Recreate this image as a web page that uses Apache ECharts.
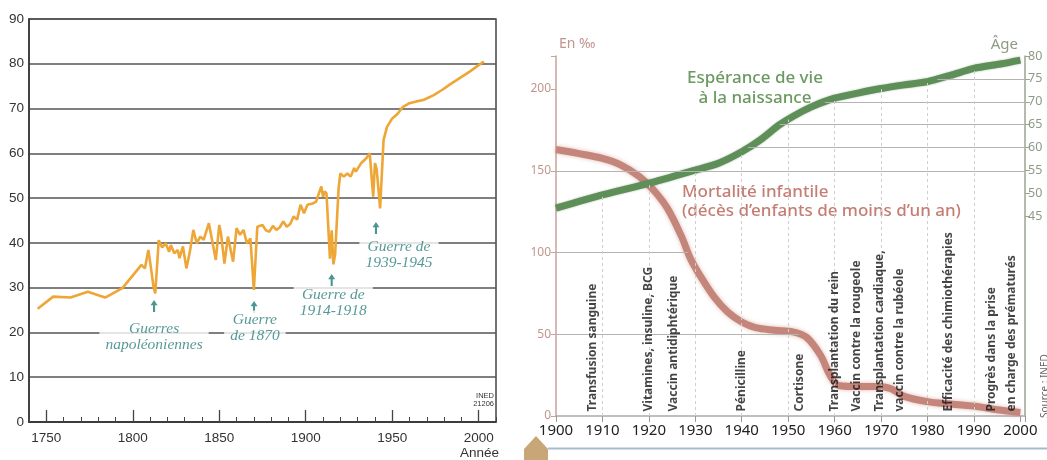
<!DOCTYPE html>
<html><head><meta charset="utf-8">
<script src="https://cdn.jsdelivr.net/npm/echarts@6/dist/echarts.min.js"></script>
<style>html,body{margin:0;padding:0;background:#fff}#c{width:1047px;height:460px}</style>
</head><body><div id="c"></div>
<script>
// ---------- Left chart : espérance de vie en France ----------
const lifeYears = [1745,1754,1764,1774,1784,1794,1805,1807,1809,1810,1812,1813,1815,1817,1819,1821,1822,1824,1826,1827,1829,1831,1833,1835,1837,1839,1841,1844,1846,1848,1850,1851,1853,1855,1858,1860,1862,1864,1866,1868,1870,1872,1875,1877,1879,1881,1883,1885,1887,1889,1891,1893,1895,1897,1899,1901,1904,1906,1908,1909,1910,1911,1912,1914,1915,1916,1917,1919,1920,1922,1924,1926,1928,1929,1932,1935,1937,1939,1940,1941,1943,1945,1947,1950,1953,1956,1960,1964,1968,1974,1979,1983,1989,1995,2000,2003];
const lifeValues = [25.3,28.0,27.8,29.1,27.8,29.9,35.1,34.3,38.4,35.8,30.2,28.7,40.6,39.0,39.9,38.0,39.5,37.7,38.4,36.6,39.2,34.3,38.0,42.9,39.9,41.4,40.7,44.4,40.3,36.2,44.0,42.1,35.4,41.4,35.8,43.3,41.8,42.9,39.9,41.0,29.5,43.6,44.0,42.8,42.5,43.8,42.9,43.5,44.8,43.6,44.2,45.9,45.2,48.5,46.6,48.5,48.8,49.2,51.5,52.6,50.3,51.5,51.0,36.5,42.8,35.2,37.5,52.2,55.5,54.8,55.5,54.8,56.7,55.9,57.8,58.9,60.0,50.3,57.8,56.5,47.7,63.0,65.9,67.8,68.8,70.3,71.2,71.6,71.9,73.0,74.2,75.3,76.8,78.3,79.7,80.5];
const leftXLabels = [1750,1800,1850,1900,1950,2000];
const warTexts = ['Guerres\nnapoléoniennes','Guerre\nde 1870','Guerre de\n1914-1918','Guerre de\n1939-1945'];
const warArrowYears = [1812.3,1870.1,1915.0,1940.6];
const warArrowLevels = [25.9,25.7,31.7,43.3];
const warTextYears = [1812.3,1870.6,1915.9,1953.9];
const warTextLevels = [19.1,21.1,26.5,37.4];

// ---------- Right chart : mortalité infantile et espérance de vie ----------
const mortYears = [1900,1905,1910,1914,1918,1921,1924,1927,1929,1931,1934,1937,1940,1943,1947,1951,1954,1957,1959,1961,1965,1969,1972,1975,1980,1985,1991,1995,2000];
const mortValues = [163,160.5,157.6,153.5,146.4,138.2,127,110,96,86,73,63.5,57.5,54,52.5,51.5,48,37,25,18.5,18,18,16.8,12,8.8,7.3,5.7,3.8,2.2];
const ageYears = [1900,1910,1920,1930,1935,1940,1944,1948,1951,1955,1960,1965,1970,1975,1980,1985,1990,1996,2000];
const ageValues = [46.8,49.7,52.2,55.1,56.6,59.1,61.7,64.9,66.8,68.9,70.8,71.9,72.9,73.7,74.4,75.8,77.3,78.3,79.1];
const decadeLines = [1910,1920,1930,1940,1950,1960,1970,1980,1990];
const mortRefLevels = [50,100];
const ageRefLevels = [60,65,70,75];
const fullRefLevel = 150;
const milestoneYears = [1907.97,1919.87,1925.26,1939.99,1952.54,1960.08,1964.75,1969.77,1974.07,1984.47,1993.82,1998.13];
const milestoneTexts = ['Transfusion sanguine','Vitamines, insuline, BCG','Vaccin antidiphtérique','Pénicilline','Cortisone','Transplantation du rein','Vaccin contre la rougeole','Transplantation cardiaque,','vaccin contre la rubéole','Efficacité des chimiothérapies','Progrès dans la prise','en charge des prématurés'];

const zip = (a,b) => a.map((v,i)=>[v,b[i]]);
function crossAt(xs, ys, level){
  for (let i=0;i<xs.length-1;i++){
    if ((ys[i]-level)*(ys[i+1]-level) <= 0 && ys[i]!==ys[i+1])
      return xs[i] + (level-ys[i])*(xs[i+1]-xs[i])/(ys[i+1]-ys[i]);
  }
  return xs[0];
}
function valueAt(xs, ys, x){
  for (let i=0;i<xs.length-1;i++){
    if (x>=xs[i] && x<=xs[i+1]) return ys[i] + (x-xs[i])*(ys[i+1]-ys[i])/(xs[i+1]-xs[i]);
  }
  return ys[ys.length-1];
}

const TEAL = '#2A7E7D';
const R_LEFT=556, R_TOP=56, R_W=469, R_H=360, AGE_H=366.6;
const ageAtAxis = 80*(AGE_H-R_H)/AGE_H;
const catYears = []; for (let y=1740;y<=2010;y++) catYears.push(String(y));
const refStyle = {color:'#b4b4b4', width:1, type:'solid'};

const chart = echarts.init(document.getElementById('c'), null, {renderer:'canvas'});
chart.setOption({
  animation:false,
  backgroundColor:'#fff',
  grid:[
    {left:29, top:19, width:467, height:403, show:true, borderColor:'#444', borderWidth:1.5, backgroundColor:'rgba(0,0,0,0)'},
    {left:R_LEFT, top:R_TOP, width:R_W, height:R_H},
    {left:R_LEFT, top:R_TOP, width:R_W, height:AGE_H},
    {left:R_LEFT, top:R_TOP, width:R_W, height:160.4}
  ],
  xAxis:[
    {gridIndex:0, type:'value', min:1740, max:2010, interval:10,
     axisLine:{lineStyle:{color:'#333', width:1.5}},
     axisTick:{inside:true, length:5, lineStyle:{color:'#444'}},
     axisLabel:{formatter:v=>leftXLabels.includes(v)?String(v):'', color:'#333', fontSize:13.5, fontFamily:'Liberation Sans', margin:9},
     splitLine:{show:false}},
    {gridIndex:0, type:'category', data:catYears, boundaryGap:false, position:'bottom',
     axisLine:{show:false}, axisLabel:{show:false},
     axisTick:{show:true, inside:true, length:12, interval:(i,v)=>(+v)%50===0, lineStyle:{color:'#444', width:1.3}}},
    {gridIndex:1, type:'value', min:1900, max:2001, interval:10,
     axisLine:{lineStyle:{color:'#aaa', width:1.5}},
     axisTick:{length:6, lineStyle:{color:'#999'}},
     axisLabel:{formatter:v=>(v%10===0)?String(v):'', color:'#222', fontSize:15, fontFamily:'Noto Sans', margin:7},
     splitLine:{show:false}},
    {gridIndex:2, type:'value', min:1900, max:2001, show:false},
    {gridIndex:3, type:'value', min:1900, max:2001, show:false}
  ],
  yAxis:[
    {gridIndex:0, type:'value', min:0, max:90, interval:10,
     axisLine:{show:true, lineStyle:{color:'#333', width:1.5}}, axisTick:{show:false},
     axisLabel:{color:'#333', fontSize:13.5, fontFamily:'Liberation Sans', margin:5},
     splitLine:{lineStyle:{color:'#555', width:1.5}}},
    {gridIndex:1, type:'value', min:0, max:220.2, interval:50,
     axisLine:{show:true, lineStyle:{color:'#C9A09B', width:1.5}},
     axisTick:{show:true, length:5, lineStyle:{color:'#C9A09B'}},
     axisLabel:{formatter:v=>(v%50===0)?String(v):'', color:'#C0958F', fontSize:12, fontFamily:'Noto Sans', margin:5},
     splitLine:{show:false}},
    {gridIndex:1, type:'value', position:'right', min:0, max:1,
     axisLine:{show:true, lineStyle:{color:'#9AA590', width:1.5}}, axisTick:{show:false}, axisLabel:{show:false}, splitLine:{show:false}},
    {gridIndex:2, type:'value', min:0, max:80, show:false},
    {gridIndex:3, type:'value', position:'right', min:45, max:80, interval:5,
     axisLine:{show:false}, axisTick:{show:true, length:5, lineStyle:{color:'#9AA590'}},
     axisLabel:{color:'#8E9A85', fontSize:12.5, fontFamily:'Noto Sans', margin:3},
     splitLine:{show:false}}
  ],
  series:[
    {type:'line', name:'Espérance de vie (France)', xAxisIndex:0, yAxisIndex:0, data:zip(lifeYears,lifeValues),
     showSymbol:false, lineStyle:{color:'#EEA636', width:2.6}, z:3},
    {type:'scatter', xAxisIndex:0, yAxisIndex:0, data:zip(warArrowYears,warArrowLevels),
     symbol:'path://M5,0 L10,7 L6.5,7 L6.5,16 L3.5,16 L3.5,7 L0,7 Z', symbolSize:[7,12],
     itemStyle:{color:'#1F7B74'}, z:4},
    {type:'scatter', xAxisIndex:0, yAxisIndex:0,
     data:warTexts.map((t,i)=>({value:[warTextYears[i],warTextLevels[i]], label:{formatter:t}})),
     symbolSize:1, itemStyle:{color:'rgba(0,0,0,0)'},
     label:{show:true, position:'inside', fontFamily:'Liberation Serif', fontStyle:'italic', fontSize:15.5, lineHeight:16,
            color:TEAL, backgroundColor:'#fff', padding:[1,6], align:'center', verticalAlign:'middle'}, z:5},
    {type:'line', xAxisIndex:2, yAxisIndex:1, data:zip(mortYears,mortValues), showSymbol:false,
     lineStyle:{opacity:0, width:0}, silent:true, z:1,
     markLine:{silent:true, symbol:['none','none'], label:{show:false}, lineStyle:refStyle,
       data: mortRefLevels.map(l=>[{coord:[1900,l]},{coord:[crossAt(mortYears,mortValues,l),l]}])
             .concat([[{coord:[1900,fullRefLevel]},{coord:[2001,fullRefLevel]}]])}},
    {type:'line', xAxisIndex:3, yAxisIndex:3, data:zip(ageYears,ageValues), showSymbol:false,
     lineStyle:{opacity:0, width:0}, silent:true, z:1,
     markLine:{silent:true, symbol:['none','none'], label:{show:false}, lineStyle:refStyle,
       data: ageRefLevels.map(l=>[{coord:[crossAt(ageYears,ageValues,l),l]},{coord:[2001,l]}])
         .concat(decadeLines.map(d=>[{coord:[d,ageAtAxis]},{coord:[d,valueAt(ageYears,ageValues,d)], lineStyle:{color:'#cfcfcf', type:[3,3], width:1}}]))}},
    {type:'line', name:'Mortalité infantile', xAxisIndex:2, yAxisIndex:1, data:zip(mortYears,mortValues),
     showSymbol:false, smooth:0.35,
     lineStyle:{color:'#C4857B', width:7, shadowBlur:4, shadowColor:'rgba(200,140,130,0.6)'}, z:3},
    {type:'line', name:'Espérance de vie à la naissance', xAxisIndex:3, yAxisIndex:3, data:zip(ageYears,ageValues),
     showSymbol:false, smooth:0.2,
     lineStyle:{color:'#5F8F58', width:7, shadowBlur:2, shadowColor:'rgba(70,110,65,0.5)'}, z:3},
    {type:'scatter', xAxisIndex:2, yAxisIndex:1,
     data:milestoneTexts.map((t,i)=>({value:[milestoneYears[i],0], label:{formatter:t}})),
     symbolSize:1, itemStyle:{color:'rgba(0,0,0,0)'},
     label:{show:true, position:'top', distance:4, rotate:90, align:'left', verticalAlign:'middle',
            fontSize:12, fontWeight:'bold', fontFamily:'Noto Sans', color:'#151515'}, z:6}
  ],
  graphic:[
    {type:'text', left:460, top:446, style:{text:'Année', fill:'#333', font:'13.5px "Liberation Sans"'}},
    {type:'text', x:494, y:392, style:{text:'INED\n21206', fill:'#333', font:'7.5px "Liberation Sans"', textAlign:'right', lineHeight:8}},
    {type:'text', x:559, y:44, style:{text:'En ‰', fill:'#C0958F', font:'14px "Noto Sans"', textVerticalAlign:'middle'}},
    {type:'text', x:1018, y:45, style:{text:'Âge', fill:'#8E9A85', font:'15px "Noto Sans"', textAlign:'right', textVerticalAlign:'middle'}},
    {type:'text', x:755, y:88, style:{text:'Espérance de vie\nà la naissance', fill:'#6A9A60', font:'500 17px "Noto Sans"', textAlign:'center', textVerticalAlign:'middle', lineHeight:20}},
    {type:'text', x:682, y:202, style:{text:'Mortalité infantile\n(décès d’enfants de moins d’un an)', fill:'#C47E73', font:'500 17px "Noto Sans"', textAlign:'left', textVerticalAlign:'middle', lineHeight:19}},
    {type:'text', x:1045, y:418, rotation:Math.PI/2, style:{text:'Source : INED', fill:'#666', font:'10px "Noto Sans"', textAlign:'left', textVerticalAlign:'middle'}},
    {type:'line', shape:{x1:548, y1:448.5, x2:1047, y2:448.5}, style:{stroke:'#A9BACD', lineWidth:2}},
    {type:'polygon', shape:{points:[[524,460],[524,449],[536,436],[548,449],[548,460]]}, style:{fill:'#C9A678'}}
  ]
});
</script></body></html>
